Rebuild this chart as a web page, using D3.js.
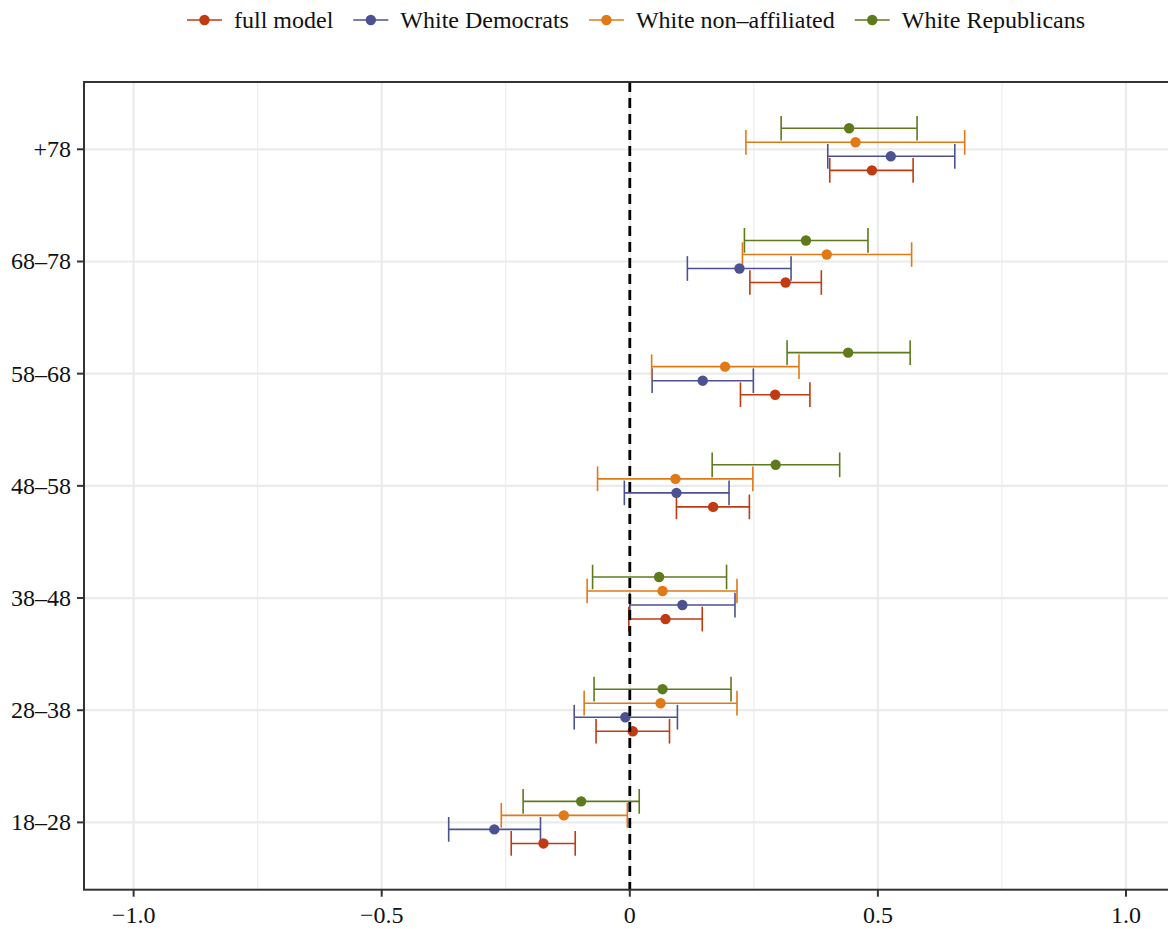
<!DOCTYPE html>
<html>
<head>
<meta charset="utf-8">
<script src="https://cdn.jsdelivr.net/npm/d3@7"></script>
<style>
  html, body { margin: 0; padding: 0; background: #fff; }
  svg { display: block; }
  svg text { font-family: "Liberation Serif", "DejaVu Serif", serif; }
</style>
</head>
<body>
<svg id="chart" width="1168" height="929"></svg>
<script>
// ---- data ----
const categories = ["18–28", "28–38", "38–48", "48–58", "58–68", "68–78", "+78"];
const seriesNames = ["full model", "White Democrats", "White non–affiliated", "White Republicans"];
const seriesColors = ["#C03A12", "#4B5291", "#E07916", "#5E7A1D"];

const fullEst  = [-0.174, 0.006, 0.072, 0.168, 0.293, 0.314, 0.488];
const fullLow  = [-0.239, -0.068, -0.002, 0.094, 0.223, 0.242, 0.403];
const fullHigh = [-0.110, 0.080, 0.146, 0.241, 0.363, 0.386, 0.571];

const demEst  = [-0.273, -0.009, 0.106, 0.094, 0.147, 0.221, 0.526];
const demLow  = [-0.365, -0.112, 0.000, -0.011, 0.045, 0.116, 0.399];
const demHigh = [-0.180, 0.096, 0.212, 0.200, 0.249, 0.325, 0.655];

const nonEst  = [-0.133, 0.062, 0.066, 0.092, 0.192, 0.397, 0.455];
const nonLow  = [-0.259, -0.092, -0.086, -0.065, 0.044, 0.227, 0.234];
const nonHigh = [-0.005, 0.216, 0.216, 0.248, 0.341, 0.568, 0.675];

const repEst  = [-0.098, 0.066, 0.059, 0.294, 0.440, 0.355, 0.442];
const repLow  = [-0.215, -0.072, -0.075, 0.166, 0.317, 0.231, 0.305];
const repHigh = [0.019, 0.204, 0.195, 0.423, 0.565, 0.480, 0.579];

const xTicks = [-1.0, -0.5, 0, 0.5, 1.0];
const xMinorTicks = [-0.75, -0.25, 0.25, 0.75];
const xTickLabels = ["−1.0", "−0.5", "0", "0.5", "1.0"];

const seriesData = [
  { est: fullEst, low: fullLow, high: fullHigh },
  { est: demEst, low: demLow, high: demHigh },
  { est: nonEst, low: nonLow, high: nonHigh },
  { est: repEst, low: repLow, high: repHigh }
];

// ---- layout ----
const FS = 24;
const panel = { left: 84, top: 82, right: 1175.6, bottom: 889.7 };
const svg = d3.select("#chart");

const x = d3.scaleLinear().domain([-1.1, 1.1]).range([panel.left, panel.right]);
const y = d3.scalePoint().domain(categories).range([panel.bottom, panel.top]).padding(0.6);
const step = y.step();
const dodge = 0.5 * step;
const nS = seriesNames.length;
const offset = i => -((i + 0.5) / nS - 0.5) * dodge;
const capH = 0.22 * step;

const rows = [];
seriesData.forEach((s, si) => {
  categories.forEach((c, ci) => {
    rows.push({ si, cat: c, est: s.est[ci], low: s.low[ci], high: s.high[ci] });
  });
});

svg.append("defs").append("clipPath").attr("id", "pclip")
  .append("rect").attr("x", panel.left).attr("y", panel.top)
  .attr("width", panel.right - panel.left).attr("height", panel.bottom - panel.top);

const g = svg.append("g").attr("clip-path", "url(#pclip)");

// grid
g.selectAll(".minor").data(xMinorTicks).join("line")
  .attr("x1", d => x(d)).attr("x2", d => x(d))
  .attr("y1", panel.top).attr("y2", panel.bottom)
  .attr("stroke", "#ebebeb").attr("stroke-width", 1.1);
g.selectAll(".majorx").data(xTicks).join("line")
  .attr("x1", d => x(d)).attr("x2", d => x(d))
  .attr("y1", panel.top).attr("y2", panel.bottom)
  .attr("stroke", "#ebebeb").attr("stroke-width", 2.2);
g.selectAll(".majory").data(categories).join("line")
  .attr("x1", panel.left).attr("x2", panel.right)
  .attr("y1", d => y(d)).attr("y2", d => y(d))
  .attr("stroke", "#ebebeb").attr("stroke-width", 2.2);

// error bars
const bars = g.selectAll(".bar").data(rows).join("g")
  .attr("stroke", d => seriesColors[d.si]).attr("stroke-width", 1.6).attr("fill", "none");
bars.append("line")
  .attr("x1", d => x(d.low)).attr("x2", d => x(d.high))
  .attr("y1", d => y(d.cat) + offset(d.si)).attr("y2", d => y(d.cat) + offset(d.si));
bars.append("line")
  .attr("x1", d => x(d.low)).attr("x2", d => x(d.low))
  .attr("y1", d => y(d.cat) + offset(d.si) - capH / 2).attr("y2", d => y(d.cat) + offset(d.si) + capH / 2);
bars.append("line")
  .attr("x1", d => x(d.high)).attr("x2", d => x(d.high))
  .attr("y1", d => y(d.cat) + offset(d.si) - capH / 2).attr("y2", d => y(d.cat) + offset(d.si) + capH / 2);

// points
g.selectAll(".pt").data(rows).join("circle")
  .attr("cx", d => x(d.est)).attr("cy", d => y(d.cat) + offset(d.si))
  .attr("r", 5.2).attr("fill", d => seriesColors[d.si]);

// zero line
g.append("line")
  .attr("x1", x(0)).attr("x2", x(0)).attr("y1", panel.top).attr("y2", panel.bottom)
  .attr("stroke", "#000").attr("stroke-width", 2.8).attr("stroke-dasharray", "10,6");

// panel border
svg.append("rect")
  .attr("x", panel.left).attr("y", panel.top)
  .attr("width", panel.right - panel.left).attr("height", panel.bottom - panel.top)
  .attr("fill", "none").attr("stroke", "#333").attr("stroke-width", 2);

// x axis
const xAxis = svg.append("g");
xAxis.selectAll("line").data(xTicks).join("line")
  .attr("x1", d => x(d)).attr("x2", d => x(d))
  .attr("y1", panel.bottom).attr("y2", panel.bottom + 7)
  .attr("stroke", "#333").attr("stroke-width", 2);
xAxis.selectAll("text").data(xTicks).join("text")
  .attr("x", d => x(d)).attr("y", 923)
  .attr("text-anchor", "middle").attr("font-size", FS).attr("fill", "#111")
  .text((d, i) => xTickLabels[i]);

// y axis
const yAxis = svg.append("g");
yAxis.selectAll("line").data(categories).join("line")
  .attr("x1", panel.left - 7).attr("x2", panel.left)
  .attr("y1", d => y(d)).attr("y2", d => y(d))
  .attr("stroke", "#333").attr("stroke-width", 2);
yAxis.selectAll("text").data(categories).join("text")
  .attr("x", panel.left - 13).attr("y", d => y(d) + 8)
  .attr("text-anchor", "end").attr("font-size", FS).attr("fill", "#111")
  .text(d => d);

// legend
const legend = svg.append("g");
const keyW = 35, keyGap = 12, itemGap = 20, legY = 20;
const items = legend.selectAll(".item").data(seriesNames).join("g");
items.append("line")
  .attr("x1", 0).attr("x2", keyW).attr("y1", legY).attr("y2", legY)
  .attr("stroke", (d, i) => seriesColors[i]).attr("stroke-width", 1.6);
items.append("circle")
  .attr("cx", keyW / 2).attr("cy", legY).attr("r", 5.2)
  .attr("fill", (d, i) => seriesColors[i]);
items.append("text")
  .attr("x", keyW + keyGap).attr("y", legY + 8)
  .attr("font-size", FS).attr("fill", "#111")
  .text(d => d);
const widths = [];
items.each(function () {
  const tw = d3.select(this).select("text").node().getComputedTextLength();
  widths.push(keyW + keyGap + tw);
});
const total = d3.sum(widths) + itemGap * (widths.length - 1);
let start = 636 - total / 2;
items.attr("transform", (d, i) => {
  const t = `translate(${start},0)`;
  start += widths[i] + itemGap;
  return t;
});
</script>
</body>
</html>
